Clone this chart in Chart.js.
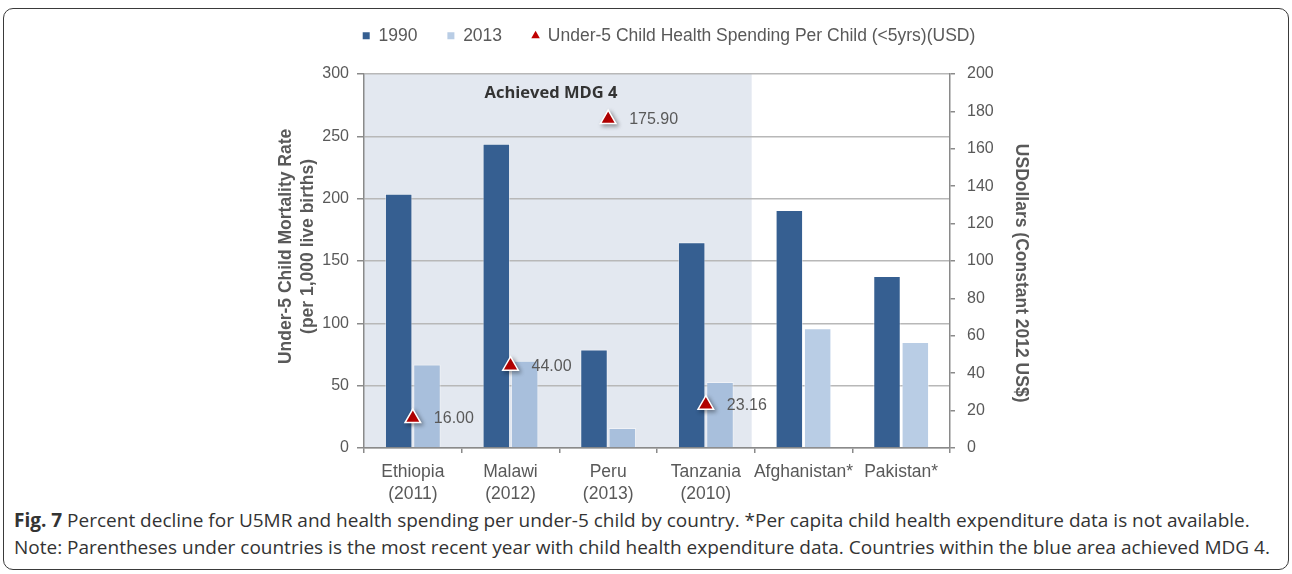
<!DOCTYPE html>
<html>
<head>
<meta charset="utf-8">
<script src="https://cdn.jsdelivr.net/npm/chart.js@4.4.1/dist/chart.umd.min.js"></script>
<style>
  html, body { margin: 0; padding: 0; background: #fff; }
  #wrap { position: relative; width: 1292px; height: 574px; overflow: hidden; }
  #frame { position: absolute; left: 3px; top: 8px; width: 1284px; height: 560px;
           border: 1.5px solid #3a3a3a; border-radius: 10px; }
  #chartBox { position: absolute; left: 0; top: 0; width: 1292px; height: 505px; }
  #caption { position: absolute; left: 14px; top: 507px; font-family: 'Open Sans', sans-serif;
             font-size: 19px; line-height: 27px; color: #333; white-space: nowrap; }
</style>
</head>
<body>
<div id="wrap">
  <div id="frame"></div>
  <div id="chartBox"><canvas id="u5Chart" width="1292" height="505"></canvas></div>
  <div id="caption"><b>Fig. 7</b> Percent decline for U5MR and health spending per under-5 child by country. *Per capita child health expenditure data is not available.<br>Note: Parentheses under countries is the most recent year with child health expenditure data. Countries within the blue area achieved MDG 4.</div>
</div>
<script>
// data
const countries = [['Ethiopia', '(2011)'], ['Malawi', '(2012)'], ['Peru', '(2013)'], ['Tanzania', '(2010)'], 'Afghanistan*', 'Pakistan*'];
const u5mr1990 = [204, 244, 79, 165, 191, 138];
const u5mr2013 = [67, 70, 16, 53, 96, 85];
const spendingPerChild = [16.00, 44.00, 175.90, 23.16, null, null];
const mortalityTicks = [0, 50, 100, 150, 200, 250, 300];
const dollarTicks = [0, 20, 40, 60, 80, 100, 120, 140, 160, 180, 200];
const achievedCount = 4; // first four countries sit in the "Achieved MDG 4" block

const FONT = "'Liberation Sans', Arial, sans-serif";
const GREY = '#595959';
// leading spaces nudge the rotated axis titles off-centre like the original
const pad = n => ' '.repeat(n);

// light blue region + its label
const mdgBlock = {
  id: 'mdgBlock',
  beforeDraw(chart) {
    const { ctx, chartArea: a, scales: { x } } = chart;
    const step = x.getPixelForValue(1) - x.getPixelForValue(0);
    const right = x.getPixelForValue(achievedCount - 1) + step / 2 - 3;
    ctx.save();
    ctx.fillStyle = '#e3e8f0';
    ctx.fillRect(a.left, a.top, right - a.left, a.bottom - a.top);
    ctx.restore();
  },
  beforeDatasetsDraw(chart) {
    const { ctx, chartArea: a } = chart;
    ctx.save();
    ctx.font = "bold 16.5px 'Open Sans', sans-serif";
    ctx.fillStyle = '#333';
    ctx.textAlign = 'center';
    ctx.textBaseline = 'middle';
    ctx.fillText('Achieved MDG 4', a.left + 187, a.top + 19);
    ctx.restore();
  },
  beforeDatasetDraw(chart, args) {
    if (args.index !== 2) return;
    const ctx = chart.ctx;
    ctx.save();
    ctx.shadowColor = 'rgba(0,0,0,0.35)';
    ctx.shadowBlur = 4;
    ctx.shadowOffsetX = 2;
    ctx.shadowOffsetY = 2;
  },
  afterDatasetDraw(chart, args) {
    if (args.index === 2) chart.ctx.restore();
  },
  afterDatasetsDraw(chart) {
    const { ctx } = chart;
    const meta = chart.getDatasetMeta(2);
    ctx.save();
    ctx.font = '16px ' + FONT;
    ctx.fillStyle = GREY;
    ctx.textAlign = 'left';
    ctx.textBaseline = 'middle';
    meta.data.forEach((pt, i) => {
      const v = spendingPerChild[i];
      if (v == null) return;
      ctx.fillText(v.toFixed(2), pt.x + 21, pt.y + 1);
    });
    ctx.restore();
  }
};

const dark = countries.map(() => '#365f91');
const light = countries.map((c, i) => i < achievedCount ? '#a8bfdc' : '#b9cde5');

new Chart(document.getElementById('u5Chart'), {
  data: {
    labels: countries,
    datasets: [
      {
        type: 'bar', label: '1990', data: u5mr1990, yAxisID: 'y',
        backgroundColor: dark, borderColor: 'rgba(255,255,255,0.45)', borderWidth: 1,
        categoryPercentage: 0.58, barPercentage: 0.97, order: 2
      },
      {
        type: 'bar', label: '2013', data: u5mr2013, yAxisID: 'y',
        backgroundColor: light, borderColor: 'rgba(255,255,255,0.45)', borderWidth: 1,
        categoryPercentage: 0.58, barPercentage: 0.97, order: 2
      },
      {
        type: 'line', label: 'Under-5 Child Health Spending Per Child (<5yrs)(USD)',
        data: spendingPerChild, yAxisID: 'y2', showLine: false,
        pointStyle: 'triangle', pointRadius: 9, pointHoverRadius: 9,
        pointBackgroundColor: '#c00000', pointBorderColor: '#ffffff', pointBorderWidth: 1.5,
        order: 1
      }
    ]
  },
  options: {
    responsive: false,
    animation: false,
    layout: { padding: { top: -3, left: 275, right: 229, bottom: 0 } },
    plugins: {
      tooltip: { enabled: false },
      title: { display: true, text: '', weight: 500, padding: 0, font: { size: 19.5, lineHeight: 1 } },
      legend: {
        position: 'top',
        labels: {
          usePointStyle: true, boxWidth: 7, boxHeight: 7, padding: 30,
          color: GREY, font: { size: 17.5, family: FONT },
          sort: (a, b) => a.datasetIndex - b.datasetIndex,
          generateLabels(chart) {
            const items = Chart.defaults.plugins.legend.labels.generateLabels(chart);
            items.forEach(it => {
              const tri = it.datasetIndex === 2;
              it.pointStyle = tri ? 'triangle' : 'rect';
              it.fillStyle = tri ? '#c00000' : (it.datasetIndex === 0 ? '#365f91' : '#b9cde5');
              it.strokeStyle = it.fillStyle;
              it.lineWidth = 0;
            });
            return items;
          }
        }
      }
    },
    scales: {
      x: {
        offset: true,
        grid: { offset: true, drawOnChartArea: false, tickLength: 5, tickColor: '#8a8a8a', lineWidth: 1.5 },
        border: { color: '#8a8a8a', width: 1.5 },
        ticks: { color: GREY, font: { size: 17.5, family: FONT, lineHeight: '22px' }, padding: 8, maxRotation: 0, autoSkip: false },
        afterFit: s => { s.height = 57; }
      },
      y: {
        position: 'left', min: 0, max: 300,
        afterBuildTicks: s => { s.ticks = mortalityTicks.map(v => ({ value: v })); },
        grid: { color: '#b8b8b8', lineWidth: 1.5, tickLength: 7, tickColor: '#8a8a8a' },
        border: { color: '#8a8a8a', width: 1.5 },
        ticks: { color: GREY, font: { size: 16, family: FONT }, padding: 8 },
        title: {
          display: true, text: [pad(6) + 'Under-5 Child Mortality Rate', pad(6) + '(per 1,000 live births)'],
          color: GREY, font: { size: 17.5, weight: 'bold', family: FONT, lineHeight: '22px' }, padding: 0
        },
        afterFit: s => { s.width = 89; }
      },
      y2: {
        position: 'right', min: 0, max: 200,
        afterBuildTicks: s => { s.ticks = dollarTicks.map(v => ({ value: v })); },
        grid: { drawOnChartArea: false, tickLength: 5, tickColor: '#8a8a8a', lineWidth: 1.5 },
        border: { color: '#8a8a8a', width: 1.5 },
        ticks: { color: GREY, font: { size: 16, family: FONT }, padding: 12 },
        title: {
          display: true, text: pad(5) + 'USDollars (Constant 2012 US$)',
          color: GREY, font: { size: 17.5, weight: 'bold', family: FONT, lineHeight: '22px' }, padding: { top: 31, bottom: 0 }
        },
        afterFit: s => { s.width = 113; }
      }
    }
  },
  plugins: [mdgBlock]
});
</script>
</body>
</html>
